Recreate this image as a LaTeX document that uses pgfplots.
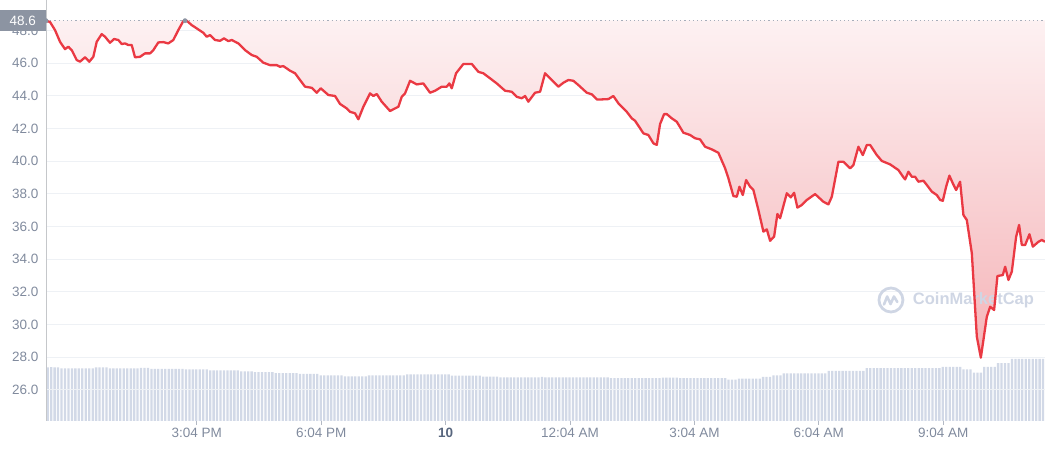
\documentclass[border=0pt]{standalone}
\usepackage{pgfplots}
\pgfplotsset{compat=1.18}
\usepackage{pgfplotstable}
\usepackage{fontspec}
\setmainfont{Liberation Sans}
\definecolor{cmcred}{RGB}{234,57,67}
\definecolor{lbl}{RGB}{128,138,157}
\definecolor{lbldark}{RGB}{88,102,126}
\definecolor{gridc}{RGB}{238,241,245}
\definecolor{barc}{RGB}{210,217,231}
\definecolor{tagc}{RGB}{140,148,162}
\definecolor{wm}{RGB}{207,214,228}
\definecolor{shtop}{RGB}{253,241,242}
\definecolor{shbot}{RGB}{245,180,184}

\pgfplotstableread{
t v
11.433 48.60
11.530 48.52
11.650 48.03
11.771 47.31
11.891 46.86
11.971 47.01
12.053 46.80
12.174 46.19
12.253 46.09
12.374 46.36
12.477 46.09
12.574 46.39
12.656 47.31
12.776 47.78
12.856 47.62
12.977 47.25
13.073 47.48
13.177 47.42
13.259 47.17
13.338 47.21
13.418 47.11
13.500 47.11
13.579 46.36
13.700 46.39
13.821 46.60
13.941 46.60
14.021 46.80
14.141 47.27
14.262 47.29
14.382 47.21
14.503 47.42
14.624 48.03
14.744 48.58
14.826 48.60
14.947 48.33
15.067 48.13
15.226 47.86
15.308 47.62
15.388 47.72
15.508 47.42
15.629 47.37
15.726 47.52
15.829 47.35
15.911 47.42
16.070 47.21
16.232 46.80
16.393 46.50
16.514 46.39
16.673 46.03
16.835 45.88
16.996 45.88
17.076 45.78
17.155 45.82
17.317 45.54
17.438 45.38
17.558 44.97
17.679 44.56
17.840 44.49
17.961 44.19
18.057 44.46
18.241 44.05
18.402 43.99
18.523 43.50
18.684 43.23
18.764 43.02
18.884 42.93
18.964 42.56
19.085 43.33
19.246 44.15
19.326 43.99
19.408 44.11
19.528 43.64
19.728 43.07
19.849 43.23
19.929 43.33
20.011 43.94
20.090 44.15
20.211 44.92
20.372 44.70
20.531 44.76
20.693 44.19
20.814 44.31
20.975 44.56
21.096 44.56
21.158 44.76
21.216 44.46
21.320 45.38
21.496 45.95
21.617 45.95
21.699 45.95
21.858 45.47
21.978 45.38
22.140 45.07
22.301 44.76
22.502 44.31
22.663 44.25
22.784 43.94
22.904 43.85
22.984 43.99
23.063 43.64
23.225 44.19
23.346 44.25
23.466 45.38
23.628 44.97
23.787 44.56
23.907 44.80
24.028 44.97
24.149 44.92
24.269 44.66
24.472 44.19
24.592 44.09
24.713 43.78
24.833 43.78
24.993 43.80
25.113 43.99
25.234 43.54
25.436 43.02
25.557 42.62
25.636 42.47
25.757 42.01
25.837 41.70
25.957 41.60
26.078 41.09
26.160 40.99
26.239 42.27
26.336 42.88
26.401 42.88
26.521 42.62
26.642 42.41
26.801 41.74
26.963 41.60
27.083 41.40
27.204 41.33
27.324 40.88
27.486 40.72
27.645 40.51
27.807 39.56
27.886 38.95
28.007 37.86
28.089 37.82
28.152 38.43
28.234 37.92
28.313 38.84
28.410 38.43
28.489 38.23
28.610 37.00
28.730 35.68
28.812 35.82
28.892 35.12
28.988 35.37
29.068 36.76
29.133 36.50
29.295 38.03
29.391 37.78
29.471 38.06
29.550 37.15
29.656 37.31
29.777 37.62
29.977 37.98
30.177 37.51
30.298 37.35
30.380 37.82
30.539 39.96
30.659 39.96
30.821 39.56
30.901 39.76
31.021 40.88
31.127 40.37
31.224 40.99
31.303 40.99
31.465 40.37
31.585 40.01
31.786 39.80
31.986 39.45
32.106 39.01
32.147 38.88
32.227 39.35
32.309 39.04
32.388 39.04
32.468 38.74
32.589 38.80
32.670 38.54
32.791 38.13
32.912 37.92
32.991 37.62
33.056 37.57
33.136 38.43
33.215 39.11
33.297 38.64
33.377 38.23
33.473 38.74
33.553 36.70
33.635 36.39
33.756 34.35
33.876 29.25
33.973 27.96
34.117 30.47
34.197 31.08
34.293 30.88
34.373 32.96
34.503 33.02
34.559 33.53
34.638 32.72
34.720 33.23
34.824 35.37
34.896 36.09
34.961 34.86
35.041 34.86
35.145 35.52
35.227 34.76
35.362 35.06
35.444 35.17
35.520 35.06
}\price

\pgfplotstableread[row sep=\\]{
v\\
27.37\\27.38\\27.37\\27.37\\
27.30\\27.31\\27.30\\27.30\\27.31\\27.30\\27.30\\27.31\\27.30\\27.30\\
27.36\\27.37\\27.36\\27.36\\
27.30\\27.30\\27.30\\27.30\\27.30\\27.30\\27.30\\27.30\\27.30\\
27.34\\27.34\\27.33\\
27.28\\27.28\\27.28\\27.28\\27.28\\27.28\\27.28\\27.28\\27.28\\27.28\\
27.25\\27.25\\27.25\\27.25\\27.25\\27.25\\27.25\\
27.18\\27.18\\27.18\\27.18\\27.18\\27.18\\27.18\\27.18\\27.18\\
27.12\\27.12\\27.12\\27.12\\
27.07\\27.07\\27.07\\27.07\\27.07\\27.07\\
27.02\\27.02\\27.02\\27.02\\27.02\\27.02\\27.02\\
26.96\\26.96\\26.96\\26.96\\26.96\\26.96\\
26.88\\26.88\\26.88\\26.88\\26.88\\26.88\\26.88\\
26.82\\26.82\\26.82\\26.82\\26.82\\26.82\\26.82\\
26.87\\26.87\\26.87\\26.87\\26.87\\26.87\\26.87\\26.87\\26.87\\26.87\\26.87\\
26.94\\26.94\\26.94\\26.94\\26.94\\26.94\\26.94\\26.94\\26.94\\26.94\\26.94\\26.94\\26.94\\
26.86\\26.86\\26.86\\26.86\\26.86\\26.86\\26.86\\26.86\\26.86\\
26.80\\26.80\\26.80\\26.80\\26.80\\
26.75\\26.75\\26.75\\26.75\\26.75\\26.75\\26.75\\26.75\\26.75\\26.75\\26.75\\26.75\\26.78\\26.75\\26.75\\26.75\\
26.75\\26.75\\26.75\\26.75\\26.75\\26.75\\26.75\\26.75\\26.75\\26.75\\26.75\\26.75\\26.75\\26.75\\26.75\\26.75\\
26.70\\26.70\\26.70\\26.70\\26.70\\26.70\\26.70\\26.70\\26.70\\26.70\\26.70\\26.70\\26.70\\26.70\\26.70\\
26.74\\26.74\\26.74\\26.74\\26.74\\
26.70\\26.70\\26.70\\26.70\\26.70\\26.70\\26.70\\26.70\\26.70\\26.70\\26.70\\26.70\\26.70\\26.70\\
26.62\\26.62\\26.62\\
26.68\\26.68\\26.68\\26.68\\26.68\\26.68\\26.68\\
26.78\\26.78\\26.78\\
26.88\\26.88\\26.88\\
27.00\\27.00\\27.00\\27.00\\27.00\\27.00\\27.00\\27.00\\27.00\\27.00\\27.00\\27.00\\27.00\\
27.15\\27.15\\27.15\\27.15\\27.15\\27.15\\27.15\\27.15\\27.15\\27.15\\27.15\\
27.32\\27.32\\27.32\\27.32\\27.32\\27.32\\27.32\\27.32\\27.32\\27.32\\27.32\\
27.32\\27.32\\27.32\\27.32\\27.32\\27.32\\27.32\\27.32\\27.32\\27.32\\27.32\\
27.40\\27.40\\27.40\\27.40\\27.40\\27.40\\
27.25\\27.25\\27.25\\
27.04\\27.04\\27.04\\
27.40\\27.40\\27.40\\27.40\\
27.62\\27.62\\27.62\\27.62\\
27.88\\27.88\\27.88\\27.88\\27.88\\27.88\\27.88\\27.88\\27.88\\27.88\\
}\volume

\begin{document}
\begin{tikzpicture}[x=1pt,y=1pt]
\path[use as bounding box] (-46,-29) rectangle (999,421);
% volume bars
\begin{axis}[
  at={(0,0)}, anchor=south west, scale only axis,
  width=999pt, height=421pt,
  xmin=-0.5, xmax=288.56, ymin=24.08, ymax=49.87,
  hide axis, clip=true,
]
\addplot[ybar, bar width=2.3pt, fill=barc, draw=none] table[x expr=\coordindex, y=v]{\volume};
\end{axis}
% price
\begin{axis}[
  at={(0,0)}, anchor=south west, scale only axis,
  width=999pt, height=421pt,
  xmin=11.433, xmax=35.52, ymin=24.08, ymax=49.87,
  axis lines*=left,
  x axis line style={draw=none},
  y axis line style={draw=gridc!80!black!90, line width=0.8pt},
  ymajorgrids, grid style={gridc, line width=1pt},
  ytick={26,28,30,32,34,36,38,40,42,44,46,48},
  xtick={15.067,18.067,21.067,24.067,27.067,30.067,33.067},
  xticklabels={3:04 PM,6:04 PM,{\textcolor{lbldark}{\bfseries 10}},12:04 AM,3:04 AM,6:04 AM,9:04 AM},
  tick align=outside, major tick length=4pt,
  ytick style={draw=none},
  xtick style={draw=lbl!60, line width=0.8pt},
  /pgf/number format/assume math mode=true,
  y tick label style={/pgf/number format/fixed, /pgf/number format/fixed zerofill, /pgf/number format/precision=1},
  tick label style={font=\fontsize{13.5}{13.5}\selectfont, text=lbl},
  clip=true,
]
\addplot[top color=shtop, bottom color=shbot, draw=none, forget plot] table[x=t,y=v]{\price} -- (axis cs:35.52,48.62) -- (axis cs:11.433,48.62) -- cycle;
\addplot[draw=lbl!70, line width=0.8pt, dash pattern=on 1.2pt off 3pt, forget plot] coordinates {(11.433,48.6) (35.52,48.6)};
% watermark
\coordinate (logo) at (rel axis cs:0.8458,0.2874);
\draw[wm, line width=2.8pt] (logo) circle[radius=12pt];
\draw[wm, line width=2.6pt, line join=round, line cap=round] ([xshift=-7pt,yshift=-4.5pt]logo) -- ++(3.2pt,8pt) -- ++(3.4pt,-7.5pt) -- ++(3.4pt,7.5pt) -- ++(3.4pt,-5.5pt);
\node[text=wm, font=\fontsize{16.5}{16.5}\selectfont\bfseries] at (rel axis cs:0.9284,0.2874) {CoinMarketCap};
\addplot[cmcred, line width=2.3pt, line join=round] table[x=t,y=v]{\price};
\addplot[only marks, mark=*, mark size=2.2pt, color=tagc] coordinates {(11.433,48.6) (14.785,48.6)};
\coordinate (tagpt) at (axis cs:11.433,48.6);
\end{axis}
\node[fill=tagc, text=white, minimum width=46pt, minimum height=21pt, inner sep=0pt, anchor=east, font=\fontsize{13.5}{13.5}\selectfont] at (tagpt) {48.6};
\end{tikzpicture}
\end{document}
